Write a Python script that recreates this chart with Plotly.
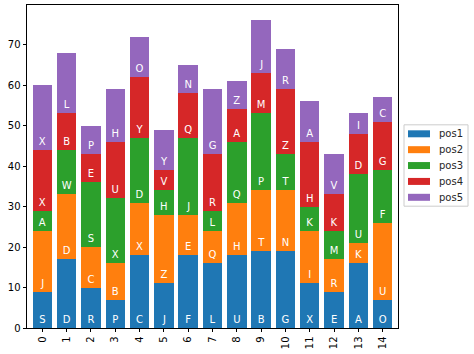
import plotly.graph_objects as go

categories = [str(i) for i in range(15)]
series_names = ["pos1", "pos2", "pos3", "pos4", "pos5"]
pos1 = [9, 17, 10, 7, 18, 11, 18, 16, 18, 19, 19, 11, 9, 16, 7]
pos2 = [15, 16, 10, 9, 13, 17, 10, 8, 13, 15, 15, 13, 8, 5, 19]
pos3 = [5, 11, 16, 16, 16, 6, 19, 5, 15, 19, 9, 6, 7, 17, 13]
pos4 = [15, 9, 7, 14, 15, 5, 11, 14, 8, 10, 16, 16, 9, 10, 12]
pos5 = [16, 15, 7, 13, 10, 10, 7, 16, 7, 13, 10, 10, 10, 5, 6]
lab1 = list("SDRPCJFLUBGXEAO")
lab2 = list("JDCBXZEQHTNIRKU")
lab3 = list("AWSXDHJLQPTKMUF")
lab4 = list("XBEUYVQRAMZHKDG")
lab5 = list("XLPHOYNGZJRAVIC")
y_ticks = [0, 10, 20, 30, 40, 50, 60, 70]

values = [pos1, pos2, pos3, pos4, pos5]
texts = [lab1, lab2, lab3, lab4, lab5]
colors = ["#1f77b4", "#ff7f0e", "#2ca02c", "#d62728", "#9467bd"]

FONT = "DejaVu Sans"
W, H = 474, 354
ML, MR, MT, MB = 27, 76, 5, 25.5

x_idx = list(range(len(categories)))
fig = go.Figure()
for name, vals, txt, col in zip(series_names, values, texts, colors):
    fig.add_trace(go.Bar(
        x=x_idx, y=vals, name=name, text=txt,
        marker=dict(color=col, line=dict(width=0)),
        textposition="inside", insidetextanchor="start", textangle=0,
        constraintext="none",
        textfont=dict(family=FONT, size=10, color="white"),
        showlegend=False,
    ))

totals = [sum(v) for v in zip(*values)]
ymax = max(totals) * 1.05

# custom matplotlib-style legend (pixel layout converted to paper coords)
pw = W - ML - MR
ph = H - MT - MB
def px(x):
    return (x - ML) / pw
def py(y):
    return (H - MB - y) / ph

shapes = [dict(type="rect", xref="paper", yref="paper",
               x0=px(404), x1=px(468), y0=py(206.5), y1=py(125),
               line=dict(color="#cccccc", width=1), fillcolor="white", layer="above")]
annotations = []
for i, (name, col) in enumerate(zip(series_names, colors)):
    cy = 134 + i * 15.9
    shapes.append(dict(type="rect", xref="paper", yref="paper",
                       x0=px(408), x1=px(430), y0=py(cy + 3.5), y1=py(cy - 3.5),
                       line=dict(width=0), fillcolor=col, layer="above"))
    annotations.append(dict(xref="paper", yref="paper", x=px(437), y=py(cy),
                            text=name, showarrow=False, xanchor="left", yanchor="middle",
                            font=dict(family=FONT, size=10, color="#262626")))

fig.update_layout(
    barmode="stack", bargap=0.2,
    width=W, height=H,
    margin=dict(l=ML, r=MR, t=MT, b=MB, pad=0),
    paper_bgcolor="white", plot_bgcolor="white",
    font=dict(family=FONT, size=10, color="black"),
    shapes=shapes, annotations=annotations,
    showlegend=False,
    xaxis=dict(range=[-0.63, 14.63], tickvals=x_idx, ticktext=categories,
               tickangle=-90, ticks="outside", ticklen=3.5, tickwidth=0.8,
               tickcolor="black", showline=True, linecolor="black", linewidth=0.8,
               mirror=True, showgrid=False, zeroline=False,
               tickfont=dict(family=FONT, size=10, color="black")),
    yaxis=dict(range=[0, ymax], tickvals=y_ticks, ticks="outside", ticklen=3.5,
               tickwidth=0.8, tickcolor="black", showline=True, linecolor="black",
               linewidth=0.8, mirror=True, showgrid=False, zeroline=False,
               tickfont=dict(family=FONT, size=10, color="black")),
)

fig.write_html("out.html")
